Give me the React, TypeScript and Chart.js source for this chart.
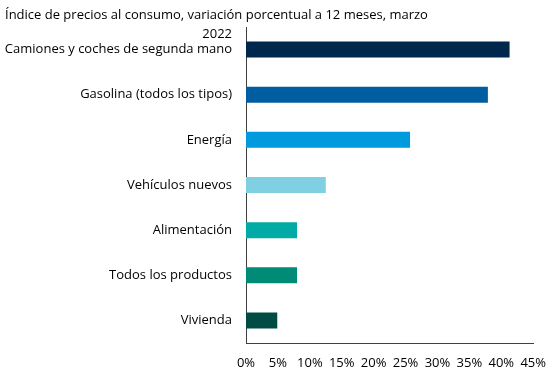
import React, { useEffect, useRef } from "react";
import { Chart, registerables } from "chart.js";

Chart.register(...registerables);

const titleLine1 = "Índice de precios al consumo, variación porcentual a 12 meses, marzo";
const titleLine2 = "2022";

const categories = [
  "Camiones y coches de segunda mano",
  "Gasolina (todos los tipos)",
  "Energía",
  "Vehículos nuevos",
  "Alimentación",
  "Todos los productos",
  "Vivienda",
];
const values = [41.3, 37.9, 25.7, 12.5, 8.0, 8.0, 4.9];
const barColors = ["#00274C", "#005DA0", "#009ADD", "#7FD0E3", "#00AAA5", "#008B76", "#004C45"];
const xMin = 0;
const xMax = 45;
const xStep = 5;

const FONT = "'Open Sans', sans-serif";

export default function App() {
  const ref = useRef<HTMLCanvasElement | null>(null);

  useEffect(() => {
    if (!ref.current) return;
    const chart = new Chart(ref.current, {
      type: "bar",
      data: {
        labels: categories,
        datasets: [
          {
            data: values,
            backgroundColor: barColors,
            borderWidth: 0,
            barPercentage: 0.355,
            categoryPercentage: 1,
          },
        ],
      },
      options: {
        indexAxis: "y",
        responsive: false,
        animation: false,
        devicePixelRatio: 1,
        layout: { padding: { left: 0, top: 27, right: 23, bottom: 0 } },
        plugins: { legend: { display: false }, tooltip: { enabled: false }, title: { display: false } },
        scales: {
          x: {
            min: xMin,
            max: xMax,
            grid: { display: false, drawTicks: false },
            border: { display: true, color: "#404040", width: 1 },
            ticks: {
              stepSize: xStep,
              color: "#000",
              font: { family: FONT, size: 13 },
              padding: 12,
              maxRotation: 0,
              autoSkip: false,
              callback: (v: any) => v + "%",
            },
            afterFit: (s: any) => {
              s.height = 33;
            },
          },
          y: {
            grid: { display: false, drawTicks: false },
            border: { display: true, color: "#404040", width: 1 },
            ticks: {
              color: "#000",
              font: { family: FONT, size: 13 },
              padding: 14,
              autoSkip: false,
            },
            afterFit: (s: any) => {
              s.width = 246;
            },
          },
        },
      },
    });
    return () => chart.destroy();
  }, []);

  return (
    <div
      style={{
        position: "fixed",
        left: 0,
        top: 0,
        width: 558,
        height: 376,
        background: "#fff",
        fontFamily: FONT,
      }}
    >
      <canvas ref={ref} width={558} height={376} style={{ position: "absolute", left: 0, top: 0 }} />
      <div
        style={{
          position: "absolute",
          left: 5,
          top: 5,
          fontSize: 13,
          lineHeight: "18px",
          color: "#000",
          whiteSpace: "nowrap",
        }}
      >
        {titleLine1}
      </div>
      <div
        style={{
          position: "absolute",
          left: 0,
          width: 232,
          top: 24,
          fontSize: 13,
          lineHeight: "18px",
          color: "#000",
          textAlign: "right",
        }}
      >
        {titleLine2}
      </div>
    </div>
  );
}
